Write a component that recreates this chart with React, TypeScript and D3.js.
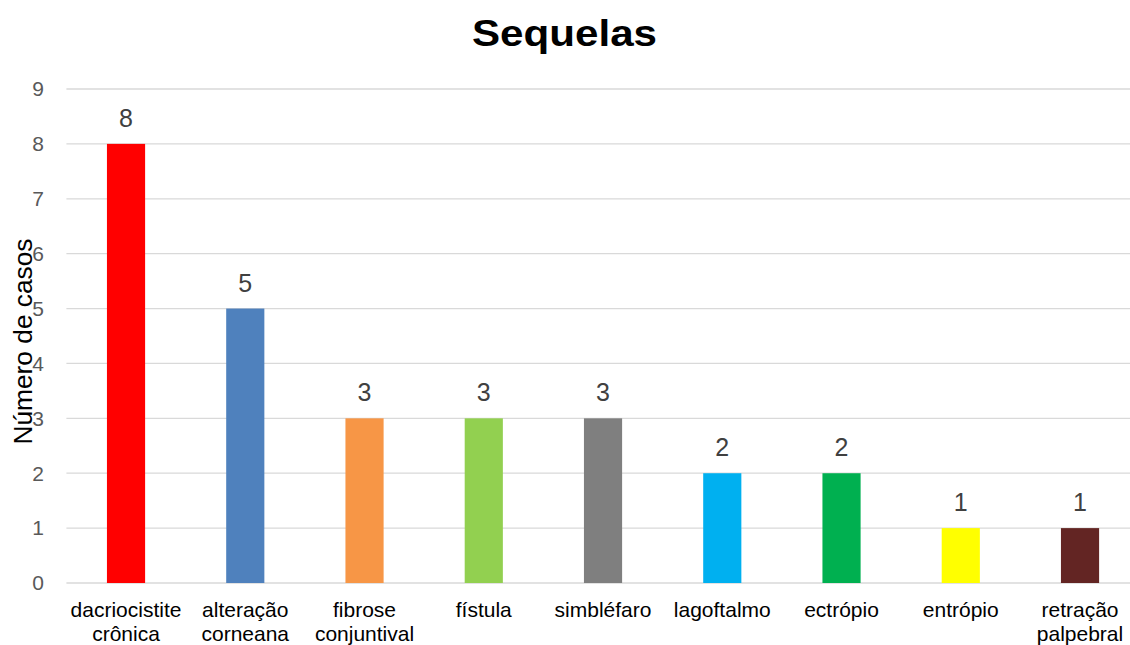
import React from "react";
import * as d3 from "d3";

const categories: string[][] = [
  ["dacriocistite", "crônica"],
  ["alteração", "corneana"],
  ["fibrose", "conjuntival"],
  ["fístula"],
  ["simbléfaro"],
  ["lagoftalmo"],
  ["ectrópio"],
  ["entrópio"],
  ["retração", "palpebral"],
];
const values: number[] = [8, 5, 3, 3, 3, 2, 2, 1, 1];
const barColors: string[] = [
  "#FF0000", "#4F81BD", "#F79646", "#92D050", "#7F7F7F",
  "#00B0F0", "#00B050", "#FFFF00", "#632523",
];
const yTicks: number[] = [0, 1, 2, 3, 4, 5, 6, 7, 8, 9];

const W = 1130;
const H = 645;
const FONT = "'Liberation Sans', Arial, sans-serif";

export default function App() {
  const plotLeft = 66.4;
  const plotRight = plotLeft + 9 * 119.25;
  const y = d3.scaleLinear().domain([0, 9]).range([583, 89]);
  const x = d3
    .scaleBand<number>()
    .domain(d3.range(categories.length))
    .range([plotLeft, plotRight])
    .paddingInner(0.68)
    .paddingOuter(0.34);

  return (
    <svg
      width={W}
      height={H}
      style={{ position: "absolute", left: 0, top: 0, background: "#fff" }}
      fontFamily={FONT}
    >
      <text
        x={564.5}
        y={46}
        textAnchor="middle"
        fontSize={37}
        fontWeight="bold"
        fill="#000"
        textLength={185}
        lengthAdjust="spacingAndGlyphs"
      >
        Sequelas
      </text>

      {yTicks.map((t) => (
        <g key={t}>
          <line x1={plotLeft} x2={W} y1={y(t)} y2={y(t)} stroke="#D9D9D9" strokeWidth={1.3} />
          <text x={44} y={y(t)} dy="0.35em" textAnchor="end" fontSize={21} fill="#595959">
            {t}
          </text>
        </g>
      ))}

      <text
        transform={`translate(32,341.5) rotate(-90)`}
        textAnchor="middle"
        fontSize={25}
        fill="#000"
        textLength={206}
        lengthAdjust="spacingAndGlyphs"
      >
        Número de casos
      </text>

      {values.map((v, i) => {
        const bx = x(i)!;
        const bw = x.bandwidth();
        const cx = bx + bw / 2;
        return (
          <g key={i}>
            <rect x={bx} y={y(v)} width={bw} height={y(0) - y(v)} fill={barColors[i]} />
            <text x={cx} y={y(v) - 17} textAnchor="middle" fontSize={25} fill="#404040">
              {v}
            </text>
            {categories[i].map((line, j) => (
              <text
                key={j}
                x={cx}
                y={617 + j * 23.5}
                textAnchor="middle"
                fontSize={21}
                fill="#000"
              >
                {line}
              </text>
            ))}
          </g>
        );
      })}
    </svg>
  );
}
